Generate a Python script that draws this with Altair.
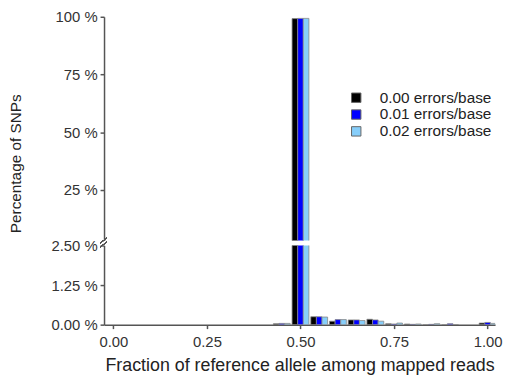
import altair as alt
import pandas as pd

bins = [0.45, 0.50, 0.55, 0.60, 0.65, 0.70, 0.75, 0.80, 0.85, 0.90, 1.00]
series = ["0.00 errors/base", "0.01 errors/base", "0.02 errors/base"]
err000 = [0.03, 99.2, 0.25, 0.11, 0.15, 0.17, 0.03, 0.02, 0.00, 0.00, 0.05]
err001 = [0.04, 99.3, 0.25, 0.16, 0.15, 0.15, 0.02, 0.01, 0.01, 0.03, 0.07]
err002 = [0.04, 99.3, 0.24, 0.16, 0.13, 0.11, 0.05, 0.02, 0.03, 0.00, 0.04]
colors = ["#000000", "#0000FF", "#87CEFA"]
x_ticks = [0.0, 0.25, 0.5, 0.75, 1.0]
top_ticks = [25, 50, 75, 100]
bottom_ticks = [0.0, 1.25, 2.5]

rows = []
for idx, (name, vals) in enumerate(zip(series, [err000, err001, err002])):
    for b, v in zip(bins, vals):
        rows.append({"bin": b, "series": name, "idx": idx, "pct": v})
df = pd.DataFrame(rows)

FONT = "Liberation Sans"
xscale = alt.Scale(domain=[-0.025, 1.02], nice=False, zero=False)

base = alt.Chart(df).transform_calculate(
    x0="datum.bin - 0.0225 + datum.idx * 0.015",
    x1="datum.bin - 0.0225 + (datum.idx + 1) * 0.015",
)

color = alt.Color(
    "series:N",
    scale=alt.Scale(domain=series, range=colors),
    legend=alt.Legend(
        title=None, orient="none", legendX=247, legendY=74,
        symbolType="square", symbolSize=90, symbolStrokeColor="#666",
        symbolStrokeWidth=1, labelFontSize=15.5, labelFont=FONT,
        labelColor="#222", rowPadding=0, labelOffset=16,
    ),
)

top = base.mark_bar(clip=True, stroke="#888", strokeWidth=0.8).encode(
    x=alt.X("x0:Q", scale=xscale, axis=None),
    x2="x1:Q",
    y=alt.Y(
        "pct:Q", stack=None,
        scale=alt.Scale(domain=[3.1, 100], nice=False, zero=False),
        axis=alt.Axis(
            values=top_ticks, labelExpr="datum.value + ' %'",
            title="Percentage of SNPs", titleY=148, titlePadding=32,
            titleFontSize=15.5, titleFont=FONT, titleFontWeight="normal",
            titleColor="#222", grid=False, labelPadding=3,
        ),
    ),
    y2=alt.datum(0),
    color=color,
).properties(width=395, height=226)

bottom = base.mark_bar(clip=True, stroke="#888", strokeWidth=0.8).encode(
    x=alt.X(
        "x0:Q", scale=xscale,
        axis=alt.Axis(values=x_ticks, format=".2f",
                      title="Fraction of reference allele among mapped reads",
                      titleFontSize=18, titleFont=FONT, titleFontWeight="normal",
                      titleColor="#222", titlePadding=7, labelPadding=6,
                      grid=False),
    ),
    x2="x1:Q",
    y=alt.Y(
        "pct:Q", stack=None,
        scale=alt.Scale(domain=[0, 2.5], nice=False),
        axis=alt.Axis(values=bottom_ticks,
                      labelExpr="format(datum.value, '.2f') + ' %'",
                      title=None, grid=False, labelPadding=3),
    ),
    y2=alt.datum(0),
    color=alt.Color("series:N", scale=alt.Scale(domain=series, range=colors), legend=None),
).properties(width=395, height=80)

brk = alt.Chart(df).mark_rule(color="#555", strokeWidth=1).encode(
    x=alt.value(-4), x2=alt.value(3), y=alt.value(-2), y2=alt.value(-8)
)
brk2 = alt.Chart(df).mark_rule(color="#555", strokeWidth=1).encode(
    x=alt.value(-4), x2=alt.value(3), y=alt.value(2), y2=alt.value(-4)
)

chart = alt.vconcat(top, alt.layer(bottom, brk, brk2), spacing=5, bounds="flush").properties(
    padding={"left": 0, "top": 0, "right": 0, "bottom": 0}
).configure_view(
    stroke=None
).configure_axis(
    labelFont=FONT, labelFontSize=15, labelColor="#333",
    domainColor="#555", domainWidth=1.5, tickColor="#555", tickWidth=1.5,
    tickSize=4, labelPadding=4,
).configure_legend(labelFont=FONT)

chart.save("out.html", embed_options={"renderer": "svg", "actions": False})
